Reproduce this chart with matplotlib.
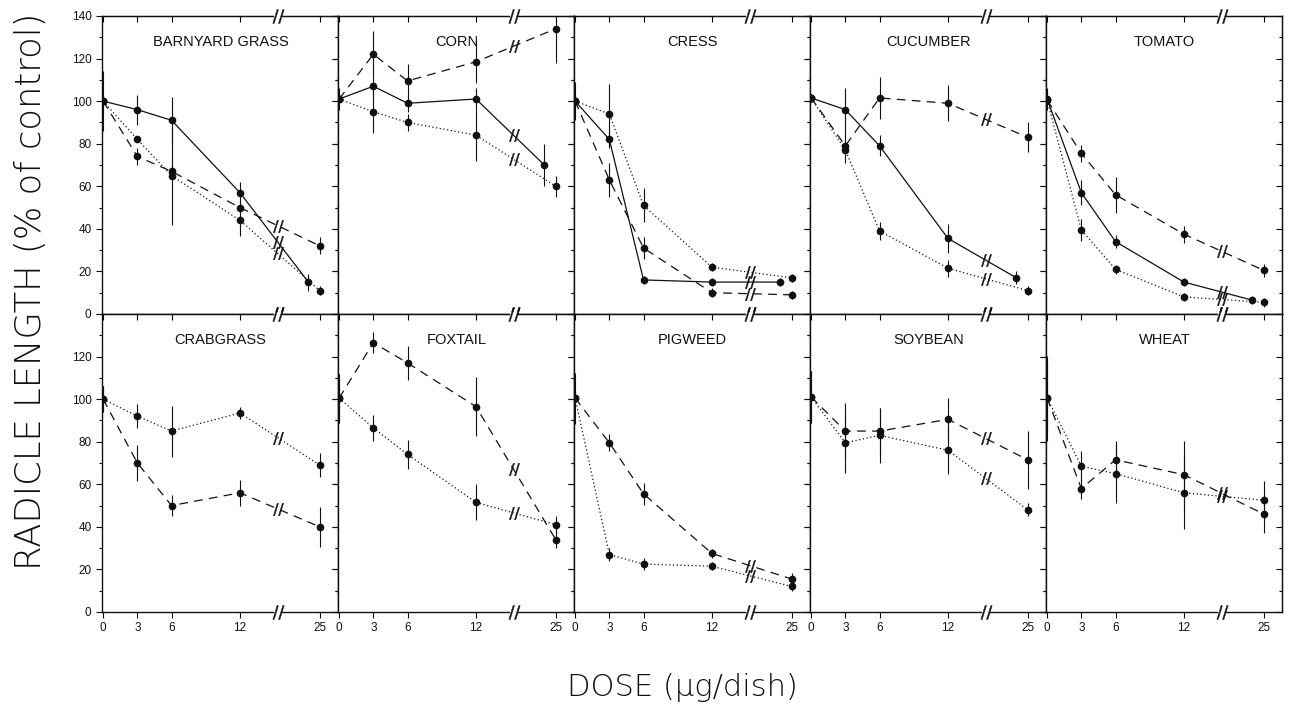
import numpy as np
import matplotlib
matplotlib.use('Agg')
import matplotlib.pyplot as plt
from matplotlib.ticker import MultipleLocator

# dose axis is broken between 12 and 25, so 25 is drawn at position 19
dose_labels = ['0', '3', '6', '12', '25']
dose_pos = [0, 3, 6, 12, 19]
solid_pos = [0, 3, 6, 12, 18]   # solid curves stop just short of the 25 tick
break_x = 15.3

crops = ['BARNYARD GRASS', 'CORN', 'CRESS', 'CUCUMBER', 'TOMATO',
         'CRABGRASS', 'FOXTAIL', 'PIGWEED', 'SOYBEAN', 'WHEAT']

# radicle length, % of control
solid = {
    'BARNYARD GRASS': [100, 96, 91, 57, 15],
    'CORN': [101, 107, 99, 101, 70],
    'CRESS': [100, 82, 16, 15, 15],
    'CUCUMBER': [101.5, 96, 79, 35.5, 17],
    'TOMATO': [101, 57, 34, 15, 6.5],
}
solid_err = {
    'BARNYARD GRASS': [14, 7, 11, 5, 4],
    'CORN': [5, 4, 4, 5, 10],
    'CRESS': [9, 4, 2, 2, 2],
    'CUCUMBER': [2, 10, 5, 7, 3],
    'TOMATO': [5, 6, 3, 2, 2],
}

dashed = {
    'BARNYARD GRASS': [100, 74, 67, 50, 32],
    'CORN': [101, 122, 109.5, 118.5, 134],
    'CRESS': [100, 63, 31, 10, 9],
    'CUCUMBER': [101.5, 79, 101.5, 99, 83],
    'TOMATO': [100.5, 75.5, 56, 37.5, 20.5],
    'CRABGRASS': [100, 70, 50, 56, 40],
    'FOXTAIL': [100.5, 126.5, 117, 96.5, 34],
    'PIGWEED': [100.5, 79.5, 55.5, 27.5, 15.5],
    'SOYBEAN': [101, 85, 85, 90.5, 71.5],
    'WHEAT': [100.5, 58, 71.5, 64.5, 46],
}
dashed_err = {
    'BARNYARD GRASS': [0, 4, 3, 3, 4],
    'CORN': [2, 11, 8, 10, 16],
    'CRESS': [3, 8, 5, 2, 2],
    'CUCUMBER': [2, 8, 10, 8.5, 7],
    'TOMATO': [2, 4, 8.5, 4, 3],
    'CRABGRASS': [6, 8.5, 5, 6, 9.5],
    'FOXTAIL': [11.5, 5, 8, 14, 4],
    'PIGWEED': [12, 4, 5, 2, 3],
    'SOYBEAN': [12, 13, 11, 10, 13.5],
    'WHEAT': [20, 5, 9, 16, 9],
}

dotted = {
    'BARNYARD GRASS': [100, 82, 65, 44, 11],
    'CORN': [101, 95, 90, 84, 60],
    'CRESS': [100, 94, 51, 22, 17],
    'CUCUMBER': [101.5, 77, 39, 21.5, 11],
    'TOMATO': [100.5, 39.5, 21, 8, 5.5],
    'CRABGRASS': [100, 92, 85, 93.5, 69],
    'FOXTAIL': [100.5, 86.5, 74, 51.5, 41],
    'PIGWEED': [100.5, 27, 22.5, 21.5, 12],
    'SOYBEAN': [101, 79.5, 83, 76, 48],
    'WHEAT': [100.5, 68.5, 65, 56, 52.5],
}
dotted_err = {
    'BARNYARD GRASS': [0, 0, 23, 7.5, 2],
    'CORN': [2, 10, 4, 12, 5],
    'CRESS': [3, 14, 8, 2, 2],
    'CUCUMBER': [2, 3, 4, 4, 2],
    'TOMATO': [2, 5, 2, 2, 2],
    'CRABGRASS': [6, 5.5, 12, 3, 5.5],
    'FOXTAIL': [11.5, 6, 7, 8.5, 4],
    'PIGWEED': [3, 3, 3, 2, 2],
    'SOYBEAN': [12, 14, 13, 11, 3],
    'WHEAT': [16, 7, 14, 17, 9],
}

ink = '#111111'
styles = {'-': None, '--': (7, 5), ':': (1, 2)}


def draw_series(ax, pos, vals, errs, ls):
    ax.errorbar(pos, vals, yerr=errs, color=ink, ecolor=ink, elinewidth=0.8,
                capsize=0, marker='o', markersize=4.5, lw=0.9, ls=ls,
                dashes=styles[ls])
    # little // where the curve crosses the axis break
    yb = np.interp(break_x, pos, vals)
    ax.plot(break_x, yb, ls='none', marker='$//$', ms=9, color=ink,
            markeredgewidth=0.3)


fig = plt.figure(figsize=(12.97, 7.11), dpi=100)
W, H = 1297.0, 711.0
panel_w = 236 / W
panel_h = 298 / H
row_bottom = [1 - 314 / H, 1 - 612 / H]

for k, crop in enumerate(crops):
    r, c = divmod(k, 5)
    ax = fig.add_axes([102 / W + c * panel_w, row_bottom[r], panel_w, panel_h])
    ax.set_xlim(-0.1, 20.6)
    ax.set_ylim(0, 140)

    if crop in solid:
        draw_series(ax, solid_pos, solid[crop], solid_err[crop], '-')
    draw_series(ax, dose_pos, dashed[crop], dashed_err[crop], '--')
    draw_series(ax, dose_pos, dotted[crop], dotted_err[crop], ':')

    ax.text(10.3, 128, crop, ha='center', va='center', fontsize=10.5,
            family='Liberation Sans', color=ink)

    ax.set_xticks(dose_pos)
    ax.set_xticklabels(dose_labels if r == 1 else [])
    ax.set_yticks(np.arange(0, 141, 20))
    ax.yaxis.set_minor_locator(MultipleLocator(10))
    if c == 0:
        labs = [str(v) for v in range(0, 141, 20)]
        if r == 1:
            labs[-1] = ''
        ax.set_yticklabels(labs)
    else:
        ax.set_yticklabels([])
    ax.tick_params(which='both', direction='out', length=4, width=0.8,
                   labelsize=8.5, colors=ink)
    ax.tick_params(which='minor', length=2.5)
    for lab in ax.get_xticklabels() + ax.get_yticklabels():
        lab.set_family('Liberation Sans')

    top = ax.secondary_xaxis('top')
    top.set_xticks(dose_pos)
    top.tick_params(direction='in', length=4, width=0.8, labeltop=False)
    right = ax.secondary_yaxis('right')
    right.set_yticks(np.arange(0, 141, 20))
    right.yaxis.set_minor_locator(MultipleLocator(10))
    right.tick_params(which='both', direction='in', length=4, width=0.8,
                      labelright=False)
    right.tick_params(which='minor', length=2.5)

    for sp in ax.spines.values():
        sp.set_linewidth(1.0)
        sp.set_color(ink)

    # axis-break marks on the top and bottom frame
    for yy in (0, 140):
        ax.plot([break_x - 0.35, break_x + 0.35], [yy, yy], color='white',
                lw=3, clip_on=False, zorder=6, solid_capstyle='butt')
        ax.plot(break_x, yy, ls='none', marker='$//$', ms=10, color=ink,
                markeredgewidth=0.3, clip_on=False, zorder=7)

fig.text(0.024, 0.59, 'RADICLE LENGTH (% of control)', rotation=90,
         ha='center', va='center', fontsize=25.5, fontweight='light', color=ink)
fig.text(0.526, 0.033, 'DOSE (\u03bcg/dish)', ha='center', va='center',
         fontsize=22, fontweight='light', color=ink)

fig.savefig('out.png', dpi=100)
